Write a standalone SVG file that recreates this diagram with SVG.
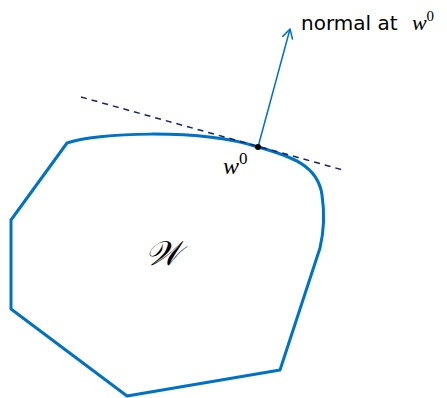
<svg xmlns="http://www.w3.org/2000/svg" width="447" height="398" viewBox="0 0 447 398">
<style>
.set{fill:none;stroke:#0072C6;stroke-width:3;stroke-linejoin:round}
.tan{fill:none;stroke:#14246B;stroke-width:1.5;stroke-dasharray:6,5}
.nrm{fill:none;stroke:#0072C6;stroke-width:1.5}
.sans{font-family:"DejaVu Sans","Liberation Sans",sans-serif;font-size:20px;fill:#000}
.math{font-family:"Liberation Serif","DejaVu Serif",serif;font-style:italic;fill:#000}
</style>
<defs>
<marker id="ah" viewBox="0 0 12 12" refX="10" refY="6" markerWidth="12" markerHeight="12" markerUnits="userSpaceOnUse" orient="auto">
<path d="M1,1 L10,6 L1,11" fill="none" stroke="#0072C6" stroke-width="1.5" stroke-linecap="round" stroke-linejoin="round"/>
</marker>
</defs>
<g id="set-W">
<path class="set" d="M67,143 C95,133 198,128 258,147 C290,156 318,165 322,195 C325,215 323,235 320,248 L280,370 L127,396 L11,309 L11,220 Z"/>
<text class="math" x="145" y="265" font-size="34">𝒲</text>
</g>
<g id="connectors">
<line class="tan" x1="81" y1="97" x2="343" y2="170"/>
<line class="nrm" x1="258" y1="147" x2="290" y2="29" marker-end="url(#ah)"/>
</g>
<g id="point-w0">
<circle cx="258" cy="147" r="3" fill="#000"/>
<text class="math" x="223" y="174" font-size="24">w<tspan font-style="normal" font-size="17" dy="-10">0</tspan></text>
</g>
<g id="label-normal">
<text class="sans" x="301" y="30">normal at <tspan class="math" font-size="22" dx="8">w</tspan><tspan font-family="Liberation Serif,serif" font-size="15" dy="-9">0</tspan></text>
</g>
</svg>
